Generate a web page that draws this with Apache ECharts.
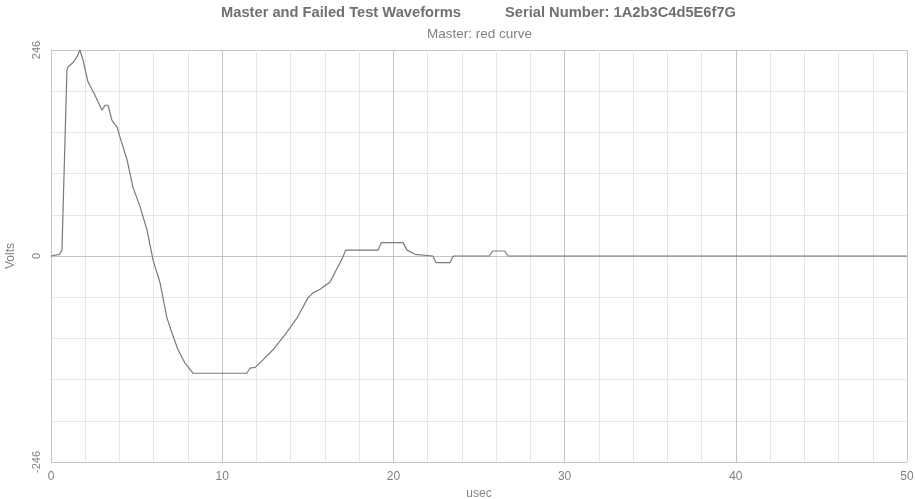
<!DOCTYPE html>
<html><head><meta charset="utf-8">
<script src="https://cdn.jsdelivr.net/npm/echarts@6/dist/echarts.min.js"></script>
<style>html,body{margin:0;padding:0;background:#fff}#c{width:915px;height:499px}</style>
</head><body><div id="c"></div>
<script>
const titleText = "Master and Failed Test Waveforms";
const serialText = "Serial Number: 1A2b3C4d5E6f7G";
const subtitleText = "Master: red curve";
const xName = "usec";
const yName = "Volts";
const yTickLabels = ["-246", "0", "246"];
const xTime = [0,0.5,0.64,0.93,1.0,1.29,1.52,1.69,1.87,2.16,2.57,2.98,3.15,3.33,3.56,3.86,4.03,4.44,4.79,5.2,5.61,5.96,6.37,6.76,7.05,7.42,7.83,8.29,11.43,11.62,11.92,12.38,12.97,13.67,14.37,15.01,15.3,15.7,16.3,17.06,17.2,19.1,19.3,20.56,20.8,21.26,22.3,22.5,23.3,23.5,25.6,25.8,26.5,26.7,50];
const masterVolts = [0,2,7,222,226,231,238,246,234,208,192,174,180,180,162,154,142,115,82,59,31,-5,-32,-73,-91,-112,-128,-140,-140,-134,-133,-124,-112,-94,-74,-50,-44,-40,-31,-1,7,7,16,16,7,2,0,-8,-8,0,0,6,6,0,0];

const pts = xTime.map((x, i) => [x, masterVolts[i]]);
const txt = '#808080';
const ff = 'Liberation Sans';
const chart = echarts.init(document.getElementById('c'), null, {renderer: 'canvas'});
chart.setOption({
  animation: false,
  backgroundColor: '#fff',
  title: [
    {text: titleText, left: 221, top: 5, padding: 0, textStyle: {fontFamily: ff, fontSize: 14.7, fontWeight: 'bold', color: '#707070'}},
    {text: serialText, left: 505, top: 5, padding: 0, textStyle: {fontFamily: ff, fontSize: 14.7, fontWeight: 'bold', color: '#707070'}},
    {text: subtitleText, left: 427, top: 27, padding: 0, textStyle: {fontFamily: ff, fontSize: 13.5, fontWeight: 'normal', color: txt}}
  ],
  grid: {left: 51, right: 8, top: 50, bottom: 37, containLabel: false, outerBoundsMode: 'none'},
  xAxis: {
    type: 'value', min: 0, max: 50, interval: 2,
    name: xName, nameLocation: 'middle', nameGap: 24,
    nameTextStyle: {fontFamily: ff, fontSize: 12, color: txt},
    axisLine: {show: true, lineStyle: {color: '#c4c4c4'}},
    axisTick: {show: false},
    axisLabel: {fontFamily: ff, fontSize: 12, color: txt, margin: 9,
      formatter: v => (Math.round(v) % 10 === 0 ? String(Math.round(v)) : '')},
    splitLine: {show: true, lineStyle: {color: ['#c4c4c4', '#e6e6e6', '#e6e6e6', '#e6e6e6', '#e6e6e6'], width: 1}}
  },
  yAxis: {
    type: 'value', min: -246, max: 246, interval: 49.2,
    name: yName, nameLocation: 'middle', nameGap: 34, nameRotate: 90,
    nameTextStyle: {fontFamily: ff, fontSize: 12, color: txt},
    axisLine: {show: true, lineStyle: {color: '#c4c4c4'}},
    axisTick: {show: false},
    axisLabel: {fontFamily: ff, fontSize: 11, color: txt, rotate: 90, margin: 9,
      formatter: v => {
        const r = Math.round(v);
        if (r === -246) return yTickLabels[0];
        if (r === 0) return yTickLabels[1];
        if (r === 246) return yTickLabels[2];
        return '';
      }},
    splitLine: {show: true, lineStyle: {color: ['#c4c4c4', '#e6e6e6', '#e6e6e6', '#e6e6e6', '#e6e6e6'], width: 1}}
  },
  series: [{
    name: 'Master', type: 'line', data: pts, showSymbol: false, symbol: 'none',
    lineStyle: {color: '#7a7a7a', width: 1.2}, z: 5
  }]
});
</script></body></html>
